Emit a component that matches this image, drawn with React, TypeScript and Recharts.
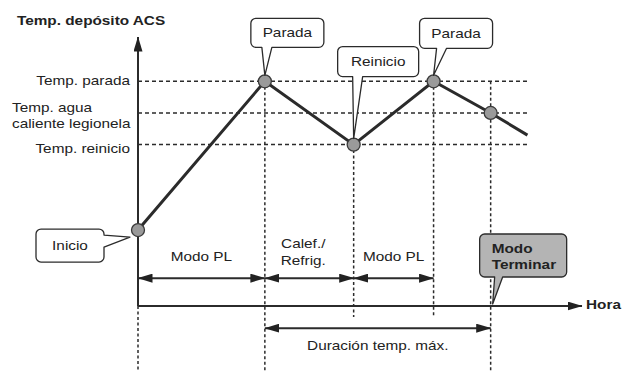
import React from 'react';
import { ComposedChart, Line, XAxis, YAxis, ReferenceLine, ReferenceDot } from 'recharts';

// ---------------------------------------------------------------------------
// data (hours on x, tank temperature on y, schematic values)
// ---------------------------------------------------------------------------

const hours = [0, 10, 17, 23.3, 27.8, 30.7];
const tankTemp = [13, 60, 40, 60, 50, 43];
const hasDot = [true, true, true, true, true, false];

const levelValues = [60, 50, 40];
const levelNames = [['Temp. parada'], ['Temp. agua', 'caliente legionela'], ['Temp. reinicio']];

const guideHours = [0, 10, 17, 23.3, 27.8];
const guideTop = [-11, 60, 40, 60, 60];
const guideBottom = [-32, -32, -14.5, -14.5, -32];

const phaseStart = [0, 10, 17];
const phaseEnd = [10, 17, 23.3];
const phaseNames = [['Modo PL'], ['Calef./', 'Refrig.'], ['Modo PL']];

const maxSpan = [10, 27.8];
const maxSpanName = 'Duración temp. máx.';

const calloutNames = [['Inicio'], ['Parada'], ['Reinicio'], ['Parada']];
const stopName = ['Modo', 'Terminar'];
const stopHour = 27.8;

const yTitle = 'Temp. depósito ACS';
const xTitle = 'Hora';

const chartData = hours.map((t, i) => ({ t, temp: tankTemp[i] }));

// ---------------------------------------------------------------------------
// styling
// ---------------------------------------------------------------------------

const X_MIN = 0;
const X_MAX = 35;
const Y_MIN = -11;
const Y_MAX = 74;
const PHASE_ROW = -2.2;
const MAX_ROW = -18;

const INK = '#2b2b2b';
const FONT = "'Liberation Sans', Arial, Helvetica, sans-serif";
const SX = 1.18; // source text is a bit wide

const phaseDx = [0, -6, 0];

// bubble geometry relative to the anchor point
const bubbles = [
  { dx: -102, dy: -1, w: 68, h: 33, side: 'right', b1: 6, b2: 18, tipX: -8, tipY: 7 },
  { dx: -14, dy: -63, w: 73, h: 29, side: 'bottom', b1: 11, b2: 21, tipX: 0, tipY: -6 },
  { dx: -16, dy: -98, w: 81, h: 30, side: 'bottom', b1: 15, b2: 25, tipX: 0, tipY: -6 },
  { dx: -14, dy: -63, w: 73, h: 30, side: 'bottom', b1: 17, b2: 27, tipX: 0, tipY: -6 },
];
const stopBubble = { dx: -11, dy: -72, w: 87, h: 43, side: 'bottom', b1: 15, b2: 23, tipX: 2, tipY: -2 };

function Txt({ x, y, anchor = 'start', bold = false, size = 13, children }: any) {
  return (
    <text
      transform={`translate(${x},${y}) scale(${SX},1)`}
      textAnchor={anchor}
      fontFamily={FONT}
      fontSize={size}
      fontWeight={bold ? 700 : 400}
      fill="#222"
    >
      {children}
    </text>
  );
}

function bubblePath(x: number, y: number, w: number, h: number, side: string, b1: number, b2: number, tx: number, ty: number) {
  const r = 5;
  const R = x + w;
  const B = y + h;
  const top = `M${x + r},${y} H${R - r} A${r},${r} 0 0 1 ${R},${y + r}`;
  const left = `H${x + r} A${r},${r} 0 0 1 ${x},${B - r} V${y + r} A${r},${r} 0 0 1 ${x + r},${y} Z`;
  if (side === 'right') {
    return `${top} V${y + b1} L${tx},${ty} L${R},${y + b2} V${B - r} A${r},${r} 0 0 1 ${R - r},${B} ${left}`;
  }
  return `${top} V${B - r} A${r},${r} 0 0 1 ${R - r},${B} H${x + b2} L${tx},${ty} L${x + b1},${B} ${left}`;
}

function Bubble({ cx, cy, g, lines, fill = '#fff', bold = false }: any) {
  const x = cx + g.dx;
  const y = cy + g.dy;
  const d = bubblePath(x, y, g.w, g.h, g.side, g.b1, g.b2, cx + g.tipX, cy + g.tipY);
  return (
    <g>
      <path d={d} fill={fill} stroke={INK} strokeWidth={1.3} strokeLinejoin="round" />
      {bold
        ? lines.map((s: string, i: number) => (
            <Txt key={i} x={x + 12} y={y + 19 + i * 16} bold>
              {s}
            </Txt>
          ))
        : <Txt x={x + g.w / 2} y={y + g.h / 2 + 4.5} anchor="middle">{lines[0]}</Txt>}
    </g>
  );
}

function LevelTick(props: any) {
  const { x, y, payload } = props;
  const i = levelValues.indexOf(payload.value);
  const lines = levelNames[i] || [];
  if (lines.length > 1) {
    return (
      <g>
        <Txt x={x - 118} y={y - 1}>{lines[0]}</Txt>
        <Txt x={x - 118} y={y + 15}>{lines[1]}</Txt>
      </g>
    );
  }
  return <Txt x={x} y={y + (payload.value === 40 ? 8 : 4)} anchor="end">{lines[0]}</Txt>;
}

function CurveDot(props: any) {
  const { cx, cy, index } = props;
  if (!hasDot[index]) return <g key={`d${index}`} />;
  return <circle key={`d${index}`} cx={cx} cy={cy} r={6.5} fill="#9a9a9a" stroke="#3a3a3a" strokeWidth={1.3} />;
}

export default function App() {
  return (
    <div style={{ position: 'absolute', left: 0, top: 0, width: 622, height: 372, background: '#fff' }}>
      <ComposedChart width={622} height={372} data={chartData} margin={{ top: 37, right: 40, bottom: 66, left: 0 }}>
        <defs>
          <marker
            id="arrowHead"
            viewBox="0 0 15 9"
            refX={14.5}
            refY={4.5}
            markerWidth={15}
            markerHeight={9}
            markerUnits="userSpaceOnUse"
            orient="auto-start-reverse"
          >
            <path d="M0,0 L15,4.5 L0,9 Z" fill="#222" />
          </marker>
        </defs>
        <XAxis type="number" dataKey="t" domain={[X_MIN, X_MAX]} hide />
        <YAxis
          type="number"
          domain={[Y_MIN, Y_MAX]}
          width={138}
          ticks={levelValues}
          interval={0}
          axisLine={false}
          tickLine={false}
          tickSize={6}
          tickMargin={2}
          tick={<LevelTick />}
        />

        {/* dashed temperature levels */}
        {levelValues.map((v) => (
          <ReferenceLine
            key={`lvl${v}`}
            segment={[{ x: hours[0], y: v }, { x: hours[hours.length - 1], y: v }]}
            stroke={INK}
            strokeWidth={1.5}
            strokeDasharray="4 3"
            ifOverflow="visible"
          />
        ))}

        {/* dotted time guides */}
        {guideHours.map((t, i) => (
          <ReferenceLine
            key={`g${i}`}
            segment={[{ x: t, y: guideTop[i] }, { x: t, y: guideBottom[i] }]}
            stroke={INK}
            strokeWidth={1.5}
            strokeDasharray="3 2.5"
            ifOverflow="visible"
          />
        ))}

        {/* axes with arrows */}
        <ReferenceLine
          segment={[{ x: X_MIN, y: Y_MIN }, { x: X_MIN, y: Y_MAX }]}
          stroke={INK}
          strokeWidth={2}
          markerEnd="url(#arrowHead)"
          ifOverflow="visible"
        />
        <ReferenceLine
          segment={[{ x: X_MIN, y: Y_MIN }, { x: X_MAX, y: Y_MIN }]}
          stroke={INK}
          strokeWidth={2}
          markerEnd="url(#arrowHead)"
          ifOverflow="visible"
        />

        {/* phase spans */}
        {phaseStart.map((s, i) => (
          <ReferenceLine
            key={`ph${i}`}
            segment={[{ x: s, y: PHASE_ROW }, { x: phaseEnd[i], y: PHASE_ROW }]}
            stroke={INK}
            strokeWidth={2}
            markerStart="url(#arrowHead)"
            markerEnd="url(#arrowHead)"
            ifOverflow="visible"
          />
        ))}
        <ReferenceLine
          segment={[{ x: maxSpan[0], y: MAX_ROW }, { x: maxSpan[1], y: MAX_ROW }]}
          stroke={INK}
          strokeWidth={2}
          markerStart="url(#arrowHead)"
          markerEnd="url(#arrowHead)"
          ifOverflow="visible"
        />

        <Line
          type="linear"
          dataKey="temp"
          stroke={INK}
          strokeWidth={3}
          dot={CurveDot}
          activeDot={false}
          isAnimationActive={false}
        />

        {/* phase labels */}
        {phaseStart.map((s, i) => (
          <ReferenceDot
            key={`pl${i}`}
            x={(s + phaseEnd[i]) / 2}
            y={PHASE_ROW}
            r={0}
            ifOverflow="visible"
            shape={(p: any) =>
              phaseNames[i].length > 1 ? (
                <g>
                  <Txt x={p.cx + phaseDx[i]} y={p.cy - 30} anchor="middle">{phaseNames[i][0]}</Txt>
                  <Txt x={p.cx + phaseDx[i]} y={p.cy - 13} anchor="middle">{phaseNames[i][1]}</Txt>
                </g>
              ) : (
                <Txt x={p.cx + phaseDx[i]} y={p.cy - 17} anchor="middle">{phaseNames[i][0]}</Txt>
              )
            }
          />
        ))}
        <ReferenceDot
          x={(maxSpan[0] + maxSpan[1]) / 2}
          y={MAX_ROW}
          r={0}
          ifOverflow="visible"
          shape={(p: any) => <Txt x={p.cx} y={p.cy + 22} anchor="middle">{maxSpanName}</Txt>}
        />

        {/* axis titles */}
        <ReferenceDot
          x={X_MIN}
          y={Y_MAX}
          r={0}
          ifOverflow="visible"
          shape={(p: any) => <Txt x={p.cx - 121} y={p.cy - 12} bold>{yTitle}</Txt>}
        />
        <ReferenceDot
          x={X_MAX}
          y={Y_MIN}
          r={0}
          ifOverflow="visible"
          shape={(p: any) => <Txt x={p.cx + 4} y={p.cy + 3} bold>{xTitle}</Txt>}
        />

        {/* callouts */}
        {calloutNames.map((lines, i) => (
          <ReferenceDot
            key={`c${i}`}
            x={hours[i]}
            y={tankTemp[i]}
            r={0}
            ifOverflow="visible"
            shape={(p: any) => <Bubble cx={p.cx} cy={p.cy} g={bubbles[i]} lines={lines} />}
          />
        ))}
        <ReferenceDot
          x={stopHour}
          y={Y_MIN}
          r={0}
          ifOverflow="visible"
          shape={(p: any) => <Bubble cx={p.cx} cy={p.cy} g={stopBubble} lines={stopName} fill="#b4b4b4" bold />}
        />
      </ComposedChart>
    </div>
  );
}
